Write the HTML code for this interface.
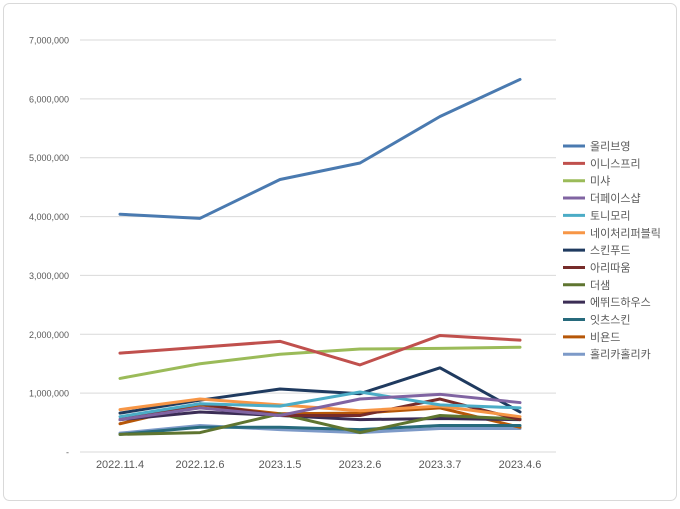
<!DOCTYPE html>
<html><head><meta charset="utf-8"><style>
body{margin:0;background:#fff;}
svg text{font-family:"Liberation Sans","Noto Sans CJK KR",sans-serif;}
</style></head><body>
<svg id="chart" width="680" height="504" xmlns="http://www.w3.org/2000/svg">
<rect x="3.5" y="3.5" width="673" height="497" rx="6" fill="#fff" stroke="#d9d9d9"/>
<g id="grid"></g><g id="series"></g><g id="legend"></g>
</svg>
<script>
const categories=["2022.11.4","2022.12.6","2023.1.5","2023.2.6","2023.3.7","2023.4.6"];
const yTicks=[0,1000000,2000000,3000000,4000000,5000000,6000000,7000000];
const names=["올리브영","이니스프리","미샤","더페이스샵","토니모리","네이처리퍼블릭","스킨푸드","아리따움","더샘","에뛰드하우스","잇츠스킨","비욘드","홀리카홀리카"];
const colors=["#4a7ab0","#c0504d","#9bbb59","#8064a2","#4bacc6","#f79646","#1f3a5f","#772c2a","#5f7530","#3b2d55","#276a7c","#b65708","#7d9ac8"];
const s0=[4040000,3970000,4630000,4910000,5700000,6330000];
const s1=[1680000,1780000,1880000,1480000,1980000,1900000];
const s2=[1250000,1500000,1660000,1750000,1760000,1780000];
const s3=[550000,750000,620000,900000,980000,840000];
const s4=[600000,820000,780000,1020000,800000,750000];
const s5=[720000,900000,800000,700000,780000,600000];
const s6=[660000,880000,1070000,990000,1430000,680000];
const s7=[550000,820000,620000,620000,900000,550000];
const s8=[300000,330000,650000,330000,620000,560000];
const s9=[550000,680000,620000,550000,570000,550000];
const s10=[300000,420000,420000,380000,450000,450000];
const s11=[480000,800000,650000,660000,750000,420000];
const s12=[320000,450000,380000,330000,400000,400000];
const seriesValues=[s0,s1,s2,s3,s4,s5,s6,s7,s8,s9,s10,s11,s12];
const NS="http://www.w3.org/2000/svg";
const x0=120,x1=520,yBase=452,yTop=40,yMax=7000000;
function xPos(i){return x0+i*(x1-x0)/(categories.length-1);}
function yPos(v){return yBase-(v/yMax)*(yBase-yTop);}
function mk(t,a){const e=document.createElementNS(NS,t);for(const k in a)e.setAttribute(k,a[k]);return e;}
const grid=document.getElementById('grid');
yTicks.forEach(v=>{
 const l=mk('line',{x1:80,x2:556,y1:yPos(v),y2:yPos(v),stroke:'#d9d9d9','stroke-width':1});
 
 
 grid.appendChild(l);
 const t=mk('text',{x:69,y:yPos(v)+3.5,'text-anchor':'end','font-size':9,fill:'#595959'});
 t.textContent=v===0?'-':v.toLocaleString('en-US');
 
 
 grid.appendChild(t);
});
categories.forEach((c,i)=>{
 const t=mk('text',{x:xPos(i),y:468,'text-anchor':'middle','font-size':11,fill:'#595959'});
 t.textContent=c;
 
 
 grid.appendChild(t);
});
const sg=document.getElementById('series');
for(let k=seriesValues.length-1;k>=0;k--){
 const pts=seriesValues[k].map((v,i)=>xPos(i)+','+yPos(v)).join(' ');
 const p=mk('polyline',{points:pts,fill:'none',stroke:colors[k],'stroke-width':3,'stroke-linejoin':'round','stroke-linecap':'round'});
 
 
 sg.appendChild(p);
}
const lg=document.getElementById('legend');
names.forEach((n,k)=>{
 const y=146+k*17.35;
 const l=mk('line',{x1:563,x2:585,y1:y,y2:y,stroke:colors[k],'stroke-width':3});
 
 
 lg.appendChild(l);
 const t=mk('text',{x:590,y:y+4,'font-size':11,fill:'#595959'});
 t.textContent=n;
 
 
 lg.appendChild(t);
});
</script>
</body></html>
